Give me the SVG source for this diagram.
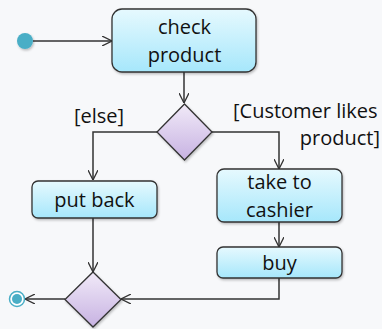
<svg xmlns="http://www.w3.org/2000/svg" width="382" height="329" viewBox="0 0 382 329">
<defs>
<linearGradient id="gBox" x1="0" y1="0" x2="0" y2="1"><stop offset="0" stop-color="#e6f9fe"/><stop offset="1" stop-color="#a6e7fb"/></linearGradient>
<linearGradient id="gDia" x1="0" y1="0" x2="0" y2="1"><stop offset="0" stop-color="#f1eaf8"/><stop offset="1" stop-color="#c7b2e2"/></linearGradient>
<filter id="sh" x="-20%" y="-20%" width="140%" height="140%"><feDropShadow dx="1" dy="1.5" stdDeviation="1.2" flood-color="#000" flood-opacity="0.25"/></filter>
<marker id="arr" viewBox="0 0 10 10" refX="10" refY="5" markerWidth="10" markerHeight="10" markerUnits="userSpaceOnUse" orient="auto"><path d="M0,0 L10,5 L0,10" fill="none" stroke="#333" stroke-width="1.3"/></marker>
<style>
.box{fill:url(#gBox);stroke:#333;stroke-width:1.3;filter:url(#sh)}
.dia{fill:url(#gDia);stroke:#333;stroke-width:1.3;filter:url(#sh)}
.t{font-family:"Open Sans",sans-serif;font-size:20px;fill:#111;text-anchor:middle}
.l{font-family:"Open Sans",sans-serif;font-size:20px;fill:#111}
.c{fill:none;stroke:#333;stroke-width:1.5;marker-end:url(#arr)}
</style>
</defs>
<rect width="382" height="329" fill="#f7f8fa"/>
<g id="connectors">
<path class="c" d="M33,41 H112"/>
<path class="c" d="M184,72 V103"/>
<path class="c" d="M157,132 H93 V180"/>
<path class="c" d="M212,132 H279 V169"/>
<path class="c" d="M279,222 V247"/>
<path class="c" d="M93,218 V272"/>
<path class="c" d="M279,278 V299 H121"/>
<path class="c" d="M65,299 H25"/>
</g>
<g id="start"><circle cx="25" cy="41" r="8" fill="#4aaec6" filter="url(#sh)"/></g>
<g id="check_product"><rect class="box" x="112" y="9" width="144" height="63" rx="10"/><text class="t" x="184.5" y="34">check</text><text class="t" x="184.5" y="62">product</text></g>
<g id="decision"><path class="dia" d="M184.5,104 L212,132 L184.5,160 L157,132 Z"/></g>
<text class="l" x="74" y="123">[else]</text>
<text class="l" x="233" y="118">[Customer likes</text>
<text class="l" x="380" y="145" text-anchor="end">product]</text>
<g id="put_back"><rect class="box" x="32" y="181" width="125" height="37" rx="6"/><text class="t" x="94.5" y="207">put back</text></g>
<g id="take_to_cashier"><rect class="box" x="217" y="169" width="125" height="53" rx="7"/><text class="t" x="279.5" y="189">take to</text><text class="t" x="279.5" y="217">cashier</text></g>
<g id="buy"><rect class="box" x="217" y="247" width="125" height="31" rx="6"/><text class="t" x="279.5" y="270">buy</text></g>
<g id="merge"><path class="dia" d="M93,272 L121,299.5 L93,327 L65,299.5 Z"/></g>
<g id="end"><circle cx="17" cy="299" r="7.5" fill="#fff" stroke="#4aaec6" stroke-width="1.5"/><circle cx="17" cy="299" r="5" fill="#4aaec6"/></g>
</svg>
